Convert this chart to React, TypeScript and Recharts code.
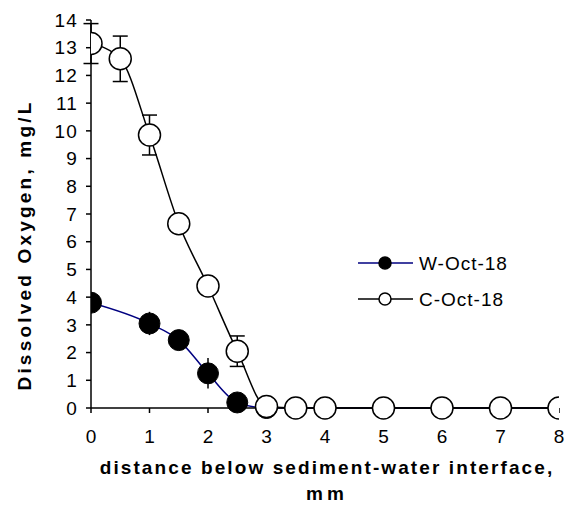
import React from 'react';
import { LineChart, Line, XAxis, YAxis, ErrorBar, Legend } from 'recharts';

const wDepth = [0, 1, 1.5, 2, 2.5, 3, 3.5, 4, 5, 6, 7, 8];
const wOxygen = [3.8, 3.05, 2.45, 1.25, 0.2, 0, 0, 0, 0, 0, 0, 0];
const wError = [0, 0.42, 0, 0.55, 0, 0, 0, 0, 0, 0, 0, 0];

const cDepth = [0, 0.5, 1, 1.5, 2, 2.5, 3, 3.5, 4, 5, 6, 7, 8];
const cOxygen = [13.15, 12.6, 9.85, 6.65, 4.4, 2.05, 0.05, 0, 0, 0, 0, 0, 0];
const cError = [0.72, 0.82, 0.72, 0, 0, 0.55, 0, 0, 0, 0, 0, 0, 0];

const xTicks = [0, 1, 2, 3, 4, 5, 6, 7, 8];
const yTicks = [0, 1, 2, 3, 4, 5, 6, 7, 8, 9, 10, 11, 12, 13, 14];

const wData = wDepth.map((x, i) => ({ x, y: wOxygen[i], e: wError[i] }));
const cData = cDepth.map((x, i) => ({ x, y: cOxygen[i], e: cError[i] }));

const FONT = '"Liberation Sans", Arial, sans-serif';

const legendItems = [
  { name: 'W-Oct-18', color: '#000080', fill: '#000000' },
  { name: 'C-Oct-18', color: '#000000', fill: '#ffffff' },
];

const renderLegend = () => (
  <svg width={200} height={60} style={{ overflow: 'visible', display: 'block' }}>
    {legendItems.map((it, i) => {
      const cy = 13 + i * 36;
      return (
        <g key={it.name}>
          <line x1={3} x2={58} y1={cy} y2={cy} stroke={it.color} strokeWidth={1.5} />
          <circle cx={30} cy={cy} r={6} fill={it.fill} stroke="#000" strokeWidth={1.5} />
          <text x={64} y={cy + 6.5} fontSize={19} letterSpacing={1} fontFamily={FONT} fill="#000">
            {it.name}
          </text>
        </g>
      );
    })}
  </svg>
);

const XTitle = (props: any) => {
  const vb = props.viewBox || { x: 91, y: 408, width: 468, height: 100 };
  const cx = vb.x + vb.width / 2 + 2;
  return (
    <g>
      <text x={cx} y={vb.y + 66} textAnchor="middle" fontSize={19} fontWeight="bold" fontFamily={FONT} letterSpacing={2.1} fill="#000">
        distance below sediment-water interface,
      </text>
      <text x={cx} y={vb.y + 92} textAnchor="middle" fontSize={19} fontWeight="bold" fontFamily={FONT} letterSpacing={4} fill="#000">
        mm
      </text>
    </g>
  );
};

const YTitle = () => {
  const cx = 24;
  const cy = 245;
  return (
    <text
      x={cx}
      y={cy}
      transform={`rotate(-90 ${cx} ${cy})`}
      textAnchor="middle"
      dominantBaseline="central"
      fontSize={19}
      fontWeight="bold"
      letterSpacing={3.2}
      fontFamily={FONT}
      fill="#000"
    >
      Dissolved Oxygen, mg/L
    </text>
  );
};

export default function App() {
  return (
    <div style={{ position: 'absolute', left: 0, top: 0, width: 577, height: 508, background: '#fff' }}>
      <LineChart width={577} height={508} margin={{ top: 20, right: 18, bottom: 0, left: 0 }}>
        <XAxis
          type="number"
          dataKey="x"
          domain={[0, 8]}
          ticks={xTicks}
          allowDataOverflow
          stroke="#000"
          strokeWidth={1.5}
          tickSize={5}
          tickMargin={17}
          height={100}
          tick={{ fill: '#000', fontSize: 19, fontFamily: FONT }}
          label={{ content: XTitle }}
        />
        <YAxis
          type="number"
          dataKey="y"
          domain={[0, 14]}
          ticks={yTicks}
          stroke="#000"
          strokeWidth={1.5}
          tickSize={5}
          tickMargin={8}
          width={91}
          interval={0}
          tick={{ fill: '#000', fontSize: 19, fontFamily: FONT, letterSpacing: 1.2 }}
          label={{ content: YTitle }}
        />
        <Legend
          content={renderLegend}
          wrapperStyle={{ position: 'absolute', left: 355, top: 250, width: 0, height: 0, overflow: 'visible' }}
        />
        <Line
          data={wData}
          dataKey="y"
          name="W-Oct-18"
          type="monotone"
          stroke="#000080"
          strokeWidth={1.5}
          dot={{ r: 10.5, fill: '#000', stroke: '#000', strokeWidth: 1 }}
          isAnimationActive={false}
        >
          <ErrorBar dataKey="e" width={0} stroke="#000" strokeWidth={1.5} direction="y" />
        </Line>
        <Line
          data={cData}
          dataKey="y"
          name="C-Oct-18"
          type="monotone"
          stroke="#000"
          strokeWidth={1.5}
          dot={{ r: 11, fill: '#fff', stroke: '#000', strokeWidth: 1.5 }}
          isAnimationActive={false}
        >
          <ErrorBar dataKey="e" width={7.5} stroke="#000" strokeWidth={1.5} direction="y" />
        </Line>
      </LineChart>
    </div>
  );
}
